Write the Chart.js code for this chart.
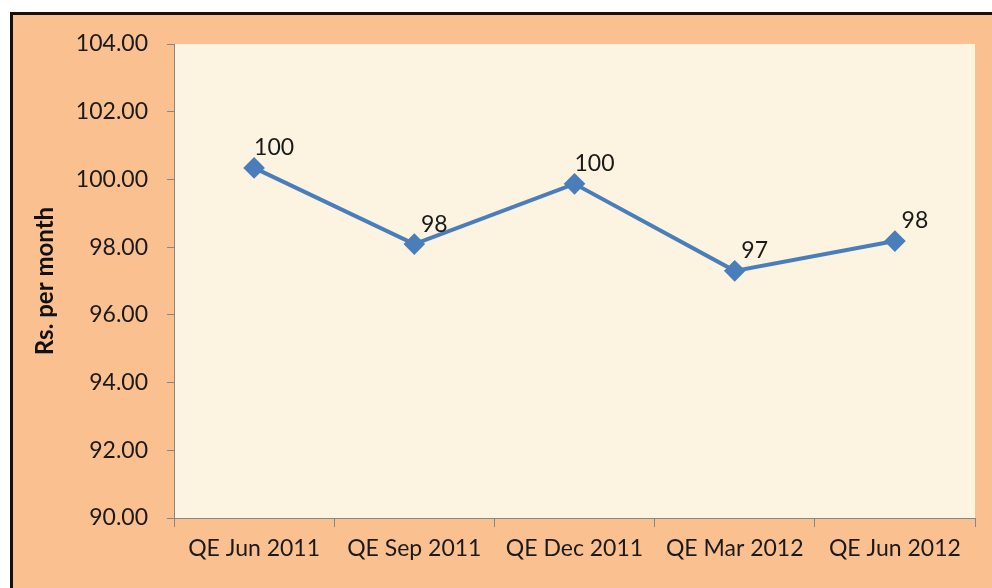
<!DOCTYPE html>
<html>
<head>
<meta charset="utf-8">
<script src="https://cdn.jsdelivr.net/npm/chart.js@4"></script>
<style>
  html, body { margin: 0; padding: 0; background: #ffffff; overflow: hidden; }
  #frame {
    position: absolute; left: 10px; top: 12px; width: 1000px; height: 600px;
    border: 3px solid #111; background: #fac090;
  }
  #wrap { position: absolute; left: 0; top: 0; width: 992px; height: 588px; }
</style>
</head>
<body>
<div id="frame"></div>
<div id="wrap"><canvas id="line-chart"></canvas></div>
<script>
/* quarter labels and average spend (Rs. per month) */
const quarters = ['QE Jun 2011', 'QE Sep 2011', 'QE Dec 2011', 'QE Mar 2012', 'QE Jun 2012'];
const spend = [100.34, 98.09, 99.87, 97.3, 98.18];
const yTicks = [90, 92, 94, 96, 98, 100, 102, 104];

const FONT = 'Lato, "Liberation Sans", sans-serif';

/* cream plot area behind the line */
const plotBg = {
  id: 'plotBg',
  beforeDraw(chart) {
    const { ctx, chartArea: a } = chart;
    ctx.save();
    ctx.fillStyle = '#fcf3e0';
    ctx.fillRect(a.left, a.top, a.right - a.left, a.bottom - a.top);
    ctx.restore();
  },
};

/* value labels up and to the right of each point */
const valueLabels = {
  id: 'valueLabels',
  afterDatasetsDraw(chart) {
    const ctx = chart.ctx;
    const meta = chart.getDatasetMeta(0);
    ctx.save();
    ctx.font = '23px ' + FONT;
    ctx.fillStyle = '#1a1a1a';
    ctx.textAlign = 'center';
    ctx.textBaseline = 'middle';
    meta.data.forEach((pt, i) => {
      ctx.fillText(String(Math.round(spend[i])), pt.x + 20, pt.y - 20);
    });
    ctx.restore();
  },
};

const config = {
  type: 'line',
  data: {
    labels: quarters,
    datasets: [
      {
        data: spend,
        borderColor: '#4a7ebb',
        backgroundColor: '#4a7ebb',
        borderWidth: 4,
        pointStyle: 'rectRot',
        pointRadius: 8,
        pointHoverRadius: 8,
        tension: 0,
      },
    ],
  },
  options: {
    responsive: true,
    maintainAspectRatio: false,
    animation: false,
    layout: {
      padding: { top: 44, right: 17, bottom: 0, left: 0 },
    },
    plugins: {
      legend: { display: false },
      tooltip: { enabled: false },
    },
    scales: {
      x: {
        offset: true,
        afterFit: (s) => { s.height = 70; },
        grid: {
          offset: true,
          drawOnChartArea: false,
          color: '#868686',
          tickLength: 9,
        },
        border: { color: '#868686', width: 1 },
        ticks: {
          color: '#1a1a1a',
          padding: 8,
          maxRotation: 0,
          font: { family: FONT, size: 23 },
        },
      },
      y: {
        min: 90,
        max: 104,
        afterFit: (s) => { s.width = 174; },
        afterBuildTicks: (s) => { s.ticks = yTicks.map((v) => ({ value: v })); },
        grid: {
          drawOnChartArea: false,
          color: '#868686',
          tickLength: 7,
        },
        border: { color: '#868686', width: 1 },
        ticks: {
          color: '#1a1a1a',
          padding: 19,
          font: { family: FONT, size: 23 },
          callback: (v) => v.toFixed(2),
        },
        title: {
          display: true,
          text: 'Rs. per month',
          color: '#111',
          padding: { top: 31, bottom: 0 },
          font: { family: FONT, size: 24, weight: 'bold' },
        },
      },
    },
  },
  plugins: [plotBg, valueLabels],
};

new Chart(document.getElementById('line-chart'), config);
</script>
</body>
</html>
